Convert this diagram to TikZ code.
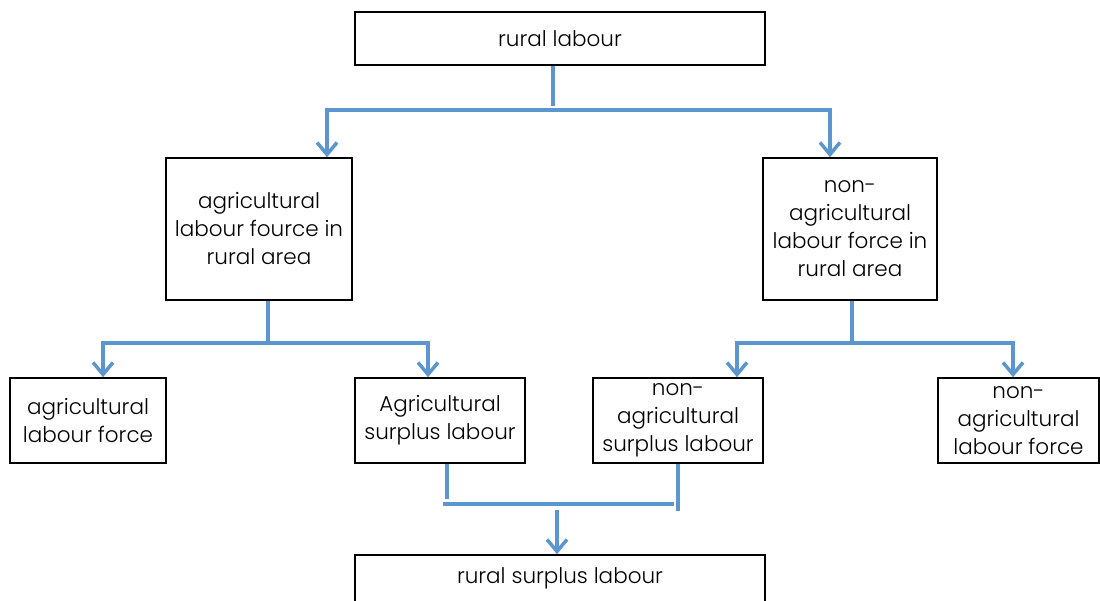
\documentclass[tikz,border=0pt]{standalone}
\usepackage{fontspec}
\setmainfont{Poppins Light}
\usetikzlibrary{arrows.meta}
\definecolor{linkblue}{RGB}{92,150,206}
\begin{document}
\begin{tikzpicture}[x=1pt,y=-1pt,
  box/.style={draw=black,line width=1.6pt,fill=white,inner sep=0pt,align=center,
    font=\fontsize{21.5}{28}\selectfont},
  lbl/.style={inner sep=0pt,align=center,font=\fontsize{21.5}{28}\selectfont},
  link/.style={draw=linkblue,line width=4pt},
  tip/.tip={Straight Barb[length=12pt,width=20pt,line width=3.5pt]},
  fork/.style={link,tip-tip}
]
\useasboundingbox (0,0) rectangle (1100,601);

% boxes
\node[box,minimum width=410pt,minimum height=53pt] (top) at (560,38.5) {rural labour};
\node[box,minimum width=186pt,minimum height=142pt] (agri) at (259,229)
  {agricultural\\labour fource in\\rural area};
\node[box,minimum width=174pt,minimum height=142pt] (nonagri) at (850,229)
  {non-\\agricultural\\labour force in\\rural area};
\node[box,minimum width=156pt,minimum height=85pt] (alf) at (88,420.5)
  {agricultural\\labour force};
\node[box,minimum width=170pt,minimum height=85pt] (asl) at (440,420.5)
  {Agricultural\\surplus labour};
\node[box,minimum width=170pt,minimum height=85pt] (nasl) at (678,420.5)
  {non-\\agricultural\\surplus labour};
\node[box,minimum width=161pt,minimum height=85pt] (nalf) at (1018.5,420.5)
  {non-\\agricultural\\labour force};
\node[box,minimum width=410pt,minimum height=70pt] (rsl) at (560,590) {};
\node[lbl] (rsltext) at (560,578) {rural surplus labour};

% first split
\coordinate (j1L) at (327,110);
\coordinate (j1R) at (830,110);
\draw[link] ([xshift=-7pt]top.south) -- ++(0,40);
\draw[fork] (j1L |- agri.north) -- (j1L) -- (j1R) -- (j1R |- nonagri.north);

% agricultural split
\coordinate (j2L) at (103,343);
\coordinate (j2R) at (428,343);
\draw[link] ([xshift=9pt]agri.south) -- ++(0,43);
\draw[fork] (j2L |- alf.north) -- (j2L) -- (j2R) -- (j2R |- asl.north);

% non-agricultural split
\coordinate (j3L) at (737,343);
\coordinate (j3R) at (1013,343);
\draw[link] ([xshift=2pt]nonagri.south) -- ++(0,43);
\draw[fork] (j3L |- nasl.north) -- (j3L) -- (j3R) -- (j3R |- nalf.north);

% merge of surplus labour
\coordinate (m1) at (443,504);
\coordinate (m2) at (674,504);
\coordinate (mdrop) at (557,510);
\draw[link] ([xshift=7pt]asl.south) -- ++(0,35);
\draw[link] (nasl.south) -- ++(0,47);
\draw[link] (m1) -- (m2);
\draw[link,-tip] (mdrop) -- (mdrop |- rsl.north);
\end{tikzpicture}
\end{document}
